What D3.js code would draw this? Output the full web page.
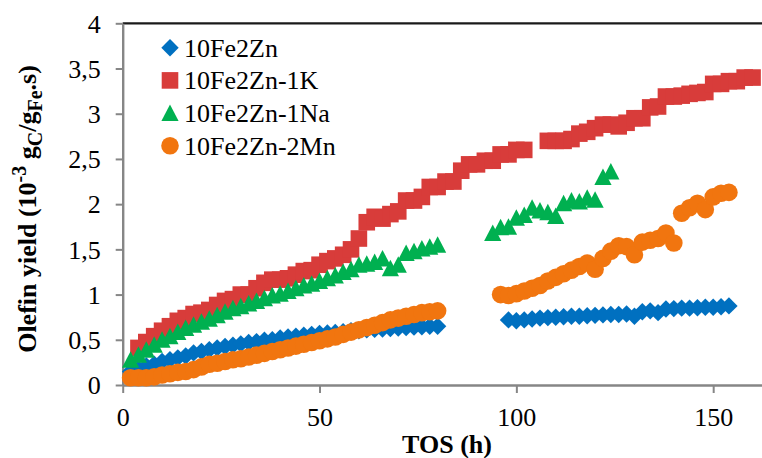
<!DOCTYPE html>
<html>
<head>
<meta charset="utf-8">
<script src="https://cdn.jsdelivr.net/npm/d3@7"></script>
<style>
  body { margin: 0; background: #fff; }
  svg text { font-family: "Liberation Serif", "Times New Roman", serif; fill: #000; }
</style>
</head>
<body>
<svg id="chart" width="762" height="458"></svg>
<script>
// ---- data: olefin yield (10^-3 gC/gFe.s) versus time on stream (h) ----
const seriesNames = ["10Fe2Zn", "10Fe2Zn-1K", "10Fe2Zn-1Na", "10Fe2Zn-2Mn"];
const seriesColors = ["#0070C0", "#D83C3A", "#00B050", "#F1750F"];
const seriesShapes = ["diamond", "square", "triangle", "circle"];

const tFe2Zn = [2,4,6,8,10,12,14,16,18,20,22,24,26,28,30,32,34,36,38,40,42,44,46,48,50,52,54,56,58,60,62,64,66,68,70,72,74,76,78,80,
                98,100,102,104,106,108,110,112,114,116,118,120,122,124,126,128,130,132,134,136,138,140,142,144,146,148,150,152,154];
const yFe2Zn = [0.15,0.18,0.21,0.23,0.26,0.28,0.30,0.32,0.355,0.37,0.39,0.41,0.425,0.44,0.455,0.47,0.48,0.495,0.50,0.52,0.53,0.54,0.55,0.56,0.57,0.575,0.58,0.59,0.60,0.60,0.61,0.615,0.62,0.625,0.63,0.635,0.64,0.645,0.65,0.65,
                0.72,0.71,0.72,0.73,0.74,0.745,0.75,0.755,0.76,0.76,0.765,0.77,0.775,0.78,0.78,0.785,0.76,0.81,0.82,0.80,0.84,0.845,0.85,0.85,0.855,0.86,0.86,0.865,0.875];

const tFe2ZnK = [4,6,8,10,12,14,16,18,20,22,24,26,28,30,32,34,36,38,40,42,44,46,48,50,52,54,56,58,60,62,64,66,68,70,72,74,76,78,80,82,84,86,88,90,92,94,96,98,100,102,
                 108,110,112,114,116,118,120,122,124,126,128,130,132,134,136,138,140,142,144,146,148,150,152,154,156,158,160];
const yFe2ZnK = [0.41,0.475,0.54,0.60,0.65,0.71,0.74,0.785,0.80,0.83,0.885,0.93,0.95,1.00,1.00,1.07,1.13,1.165,1.165,1.18,1.22,1.26,1.27,1.33,1.37,1.40,1.44,1.50,1.62,1.80,1.86,1.84,1.89,1.92,2.04,2.04,2.08,2.19,2.19,2.25,2.25,2.37,2.44,2.44,2.48,2.48,2.55,2.55,2.60,2.60,
                 2.70,2.70,2.70,2.72,2.78,2.80,2.84,2.88,2.88,2.86,2.90,2.95,2.95,3.07,3.08,3.19,3.19,3.20,3.22,3.23,3.24,3.33,3.33,3.36,3.36,3.40,3.40];

const tFe2ZnNa = [2,4,6,8,10,12,14,16,18,20,22,24,26,28,30,32,34,36,38,40,42,44,46,48,50,52,54,56,58,60,62,64,66,68,70,72,74,76,78,80,
                  94,96,98,100,102,104,106,108,110,112,114,116,118,120,122,124];
const yFe2ZnNa = [0.28,0.335,0.39,0.446,0.50,0.54,0.586,0.63,0.667,0.70,0.733,0.77,0.81,0.85,0.87,0.90,0.93,0.96,0.99,1.01,1.04,1.07,1.10,1.12,1.15,1.18,1.21,1.25,1.28,1.33,1.34,1.36,1.40,1.29,1.33,1.46,1.48,1.51,1.53,1.55,
                  1.68,1.745,1.75,1.85,1.88,1.96,1.93,1.91,1.87,2.01,2.04,2.03,2.07,2.05,2.30,2.36];

const tFe2ZnMn = [2,4,6,8,10,12,14,16,18,20,22,24,26,28,30,32,34,36,38,40,42,44,46,48,50,52,54,56,58,60,62,64,66,68,70,72,74,76,78,80,
                  96,98,100,102,104,106,108,110,112,114,116,118,120,122,124,126,128,130,132,134,136,138,140,142,144,146,148,150,152,154];
const yFe2ZnMn = [0.08,0.08,0.08,0.09,0.11,0.125,0.14,0.15,0.17,0.20,0.23,0.24,0.26,0.28,0.29,0.31,0.33,0.35,0.37,0.39,0.41,0.43,0.45,0.47,0.49,0.51,0.53,0.56,0.585,0.61,0.635,0.66,0.69,0.72,0.74,0.76,0.78,0.80,0.81,0.82,
                  1.00,0.99,1.01,1.04,1.07,1.10,1.15,1.19,1.23,1.27,1.31,1.35,1.28,1.40,1.48,1.54,1.53,1.44,1.58,1.60,1.62,1.68,1.57,1.90,1.96,2.01,1.94,2.08,2.12,2.13];

const seriesTimes = [tFe2Zn, tFe2ZnK, tFe2ZnNa, tFe2ZnMn];
const seriesValues = [yFe2Zn, yFe2ZnK, yFe2ZnNa, yFe2ZnMn];

const xTicks = [0, 50, 100, 150];
const yTicks = [0, 0.5, 1, 1.5, 2, 2.5, 3, 3.5, 4];

// ---- layout ----
const svg = d3.select("#chart");
const plotLeft = 122.7, plotRight = 762, plotTop = 23.3, plotBottom = 385;
const axisGrey = "#868686";

const x = d3.scaleLinear().domain([0, 162.4]).range([plotLeft, plotRight]);
const y = d3.scaleLinear().domain([0, 4]).range([plotBottom, plotTop]);

// marker outlines
function markerPath(shape) {
  switch (shape) {
    case "diamond":  return "M0,-8.7L8.7,0L0,8.7L-8.7,0Z";
    case "square":   return "M-8.3,-8.3H8.3V8.3H-8.3Z";
    case "triangle": return "M0,-8.5L8.6,8L-8.6,8Z";
    default:         return d3.symbol(d3.symbolCircle, Math.PI * 8.8 * 8.8)();
  }
}

// top frame line
svg.append("line")
  .attr("x1", plotLeft).attr("x2", plotRight)
  .attr("y1", plotTop).attr("y2", plotTop)
  .attr("stroke", "#1a1a1a").attr("stroke-width", 2.2);

// y axis
const yAxis = svg.append("g")
  .attr("transform", `translate(${plotLeft},0)`)
  .call(d3.axisLeft(y).tickValues(yTicks).tickSize(7).tickSizeOuter(0).tickPadding(15)
        .tickFormat(d => String(d).replace(".", ",")));
yAxis.select(".domain").attr("stroke", axisGrey).attr("stroke-width", 2.4);
yAxis.selectAll(".tick line").attr("stroke", axisGrey).attr("stroke-width", 2);
yAxis.selectAll(".tick text").attr("font-size", 26).attr("dy", "0.34em")
  .style("font-family", "'Liberation Serif', 'Times New Roman', serif");

// x axis
const xAxis = svg.append("g")
  .attr("transform", `translate(0,${plotBottom})`)
  .call(d3.axisBottom(x).tickValues(xTicks).tickSize(8).tickSizeOuter(0).tickPadding(0)
        .tickFormat(d3.format("d")));
xAxis.select(".domain").attr("stroke", axisGrey).attr("stroke-width", 2.4);
xAxis.selectAll(".tick line").attr("stroke", axisGrey).attr("stroke-width", 2);
xAxis.selectAll(".tick text").attr("font-size", 26).attr("dy", null).attr("y", 40.5)
  .style("font-family", "'Liberation Serif', 'Times New Roman', serif");

// data markers, later series drawn on top
seriesNames.forEach((name, i) => {
  const pts = seriesTimes[i].map((t, k) => ({ t, v: seriesValues[i][k] }));
  svg.append("g")
    .attr("class", "series")
    .selectAll("path")
    .data(pts)
    .join("path")
    .attr("d", markerPath(seriesShapes[i]))
    .attr("transform", d => `translate(${x(d.t)},${y(d.v)})`)
    .attr("fill", seriesColors[i]);
});

// legend
const legend = svg.append("g").attr("transform", "translate(170,47.7)");
seriesNames.forEach((name, i) => {
  const row = legend.append("g").attr("transform", `translate(0,${i * 32.7})`);
  row.append("path").attr("d", markerPath(seriesShapes[i])).attr("fill", seriesColors[i]);
  row.append("text").attr("x", 14).attr("y", 9).attr("font-size", 26).text(name);
});

// axis titles
svg.append("text")
  .attr("x", 447).attr("y", 452.5)
  .attr("text-anchor", "middle")
  .attr("font-size", 26).attr("font-weight", "bold")
  .text("TOS (h)");

const yTitle = svg.append("text")
  .attr("transform", "translate(36,209) rotate(-90)")
  .attr("text-anchor", "middle")
  .attr("font-size", 26).attr("font-weight", "bold");
yTitle.append("tspan").text("Olefin yield (10");
yTitle.append("tspan").attr("font-size", 20).attr("dy", -10).text("-3");
yTitle.append("tspan").attr("dy", 10).text(" g");
yTitle.append("tspan").attr("font-size", 20).attr("dy", 6).text("C");
yTitle.append("tspan").attr("dy", -6).text("/g");
yTitle.append("tspan").attr("font-size", 20).attr("dy", 6).text("Fe");
yTitle.append("tspan").attr("dy", -6).text(".s)");
</script>
</body>
</html>
